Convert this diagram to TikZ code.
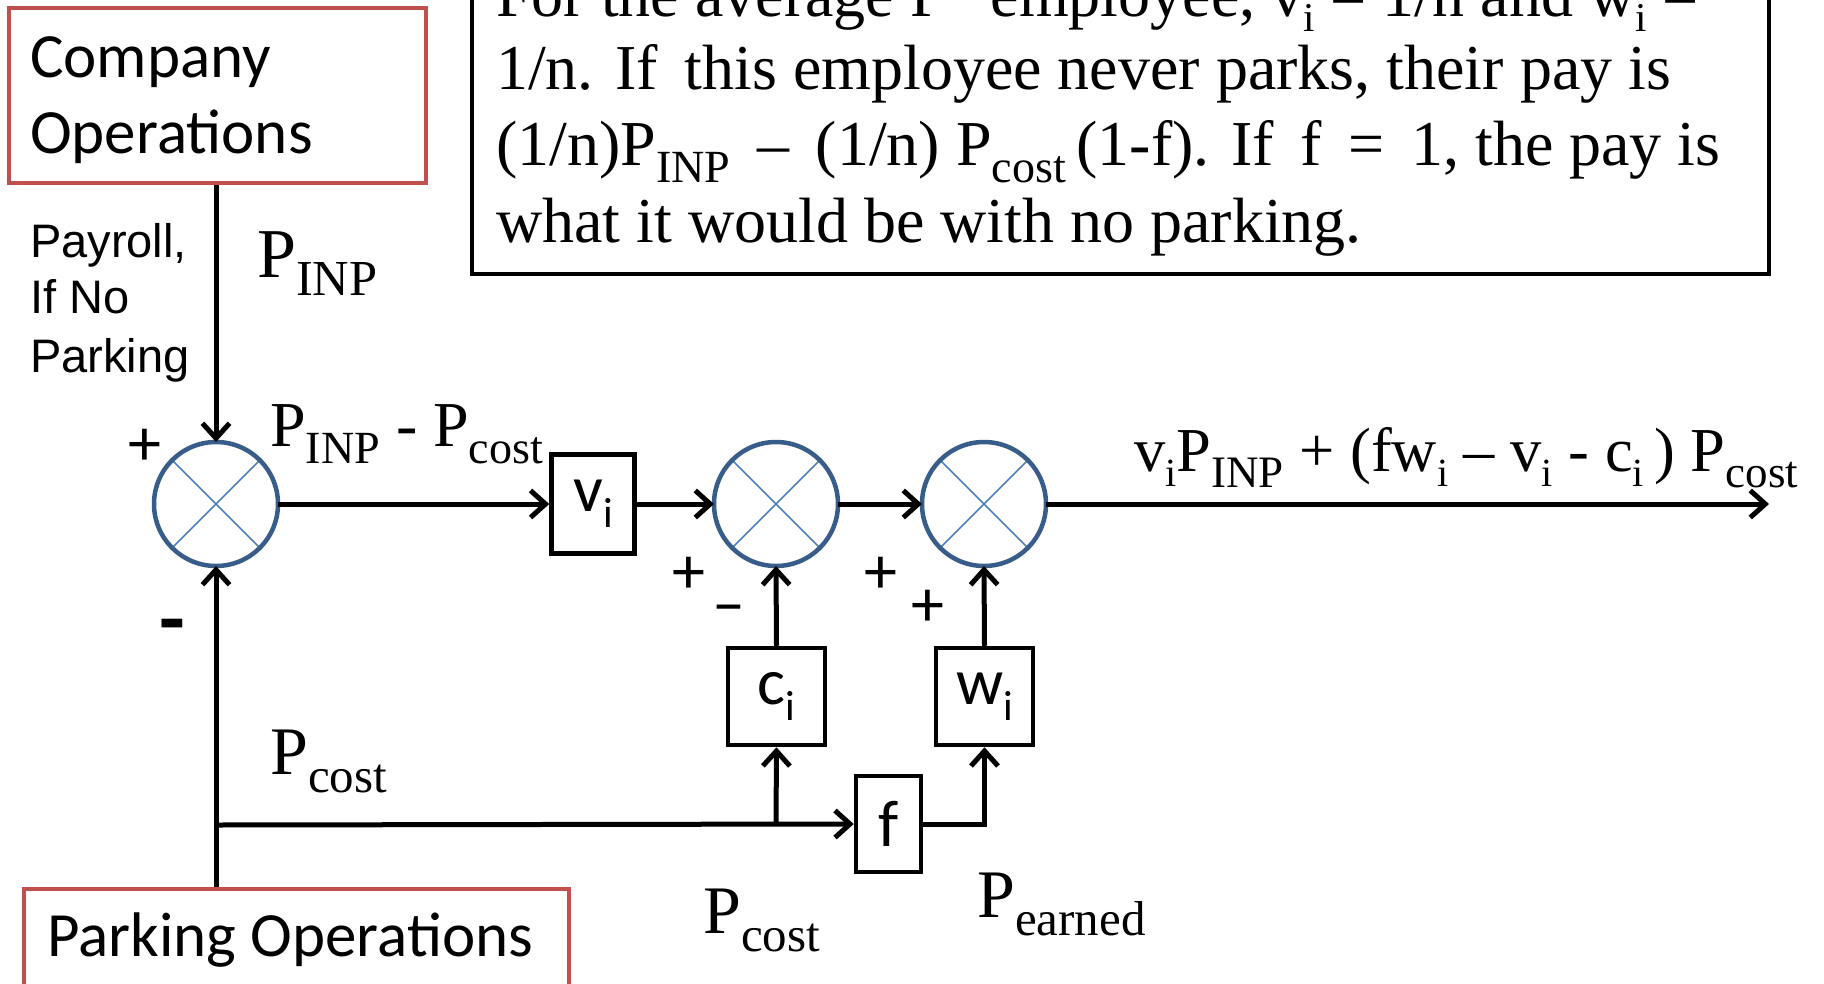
\documentclass[tikz,border=0pt]{standalone}
\usepackage{fontspec}
\usepackage{graphicx}
\setmainfont{Liberation Serif}
\newfontfamily\calf{Carlito}
\newfontfamily\arif{Liberation Sans}
\usetikzlibrary{arrows.meta}
\definecolor{redb}{RGB}{192,80,77}
\definecolor{blueo}{RGB}{56,93,138}
\definecolor{bluex}{RGB}{79,129,189}
\newcommand{\subx}[1]{\raisebox{-0.27em}{\scalebox{0.72}{#1}}}
\newcommand{\subi}[1]{\raisebox{-0.24em}{\scalebox{0.64}{#1}}}
\newcommand{\setfs}[1]{\fontsize{#1}{#1}\selectfont}
\tikzset{
  conn/.style={line width=5pt, -{Straight Barb[length=15pt,width=27pt]}},
  blk/.style={draw, line width=4.5pt, inner sep=0pt, font=\calf\setfs{66}},
  redbox/.style={draw=redb, line width=4.5pt, inner sep=0pt},
  sumj/.style={circle, draw=blueo, line width=4.5pt, minimum size=124pt, inner sep=0pt, outer sep=0pt},
  xline/.style={bluex, line width=1.6pt},
  lbl/.style={anchor=base west, inner sep=0pt},
  sgn/.style={inner sep=0pt, font=\calf\setfs{66}},
  serif/.style={lbl, font=\setfs{70}},
  note/.style={lbl, font=\setfs{64}},
}
\begin{document}
\begin{tikzpicture}[x=1pt,y=-1pt]
\useasboundingbox (0,0) rectangle (1824,983);
\clip (0,0) rectangle (1824,983);
\fill[white] (0,0) rectangle (1824,983);

% note box
\draw[line width=4.5pt] (472,-100) rectangle (1769,274);
\node[note] (t1) at (496,16) {For the average P\hspace{0.7em}employee, v\subi{i} = 1/n and w\subi{i} =};
\node[note] (t2) at (496,89) {1/n. If\, this employee never parks, their pay is};
\node[note] (t3) at (496,165) {(1/n)P\subx{INP} \,–\, (1/n) P\subx{cost}\,(1-f). If\, f\, =\, 1, the pay is};
\node[note] (t4) at (496,242) {what it would be with no parking.};

% red boxes
\node[redbox, minimum width=417pt, minimum height=175pt] (co) at (217.5,95.5) {};
\node[lbl, font=\calf\setfs{63}] (co1) at (30,77) {Company};
\node[lbl, font=\calf\setfs{63}] (co2) at (30,153) {Operations};
\node[redbox, minimum width=545pt, minimum height=130pt] (po) at (296.5,954) {};
\node[lbl, font=\calf\setfs{63}] (pot) at (47,956) {Parking Operations};

% payroll text
\node[lbl, font=\arif\setfs{47}] (p1) at (30,257) {Payroll,};
\node[lbl, font=\arif\setfs{47}] (p2) at (30,313) {If No};
\node[lbl, font=\arif\setfs{47}] (p3) at (30,372) {Parking};

% summing junctions
\node[sumj] (s1) at (216,504) {};
\node[sumj] (s2) at (776,504) {};
\node[sumj] (s3) at (984,504) {};
\foreach \s in {s1,s2,s3}{
  \draw[xline] (\s.center) ++(45:60) -- ++(225:120);
  \draw[xline] (\s.center) ++(135:60) -- ++(315:120);
}

% blocks
\node[blk, minimum width=83pt, minimum height=99pt] (v) at (593,504) {v\subi{i}};
\node[blk, minimum width=97pt, minimum height=97pt] (c) at (776.5,696.5) {c\subi{i}};
\node[blk, minimum width=97pt, minimum height=97pt] (w) at (984.5,696.5) {w\subi{i}};
\node[blk, minimum width=65pt, minimum height=96pt] (f) at (888.5,824) {f};

\coordinate (outend) at (1769,504);
\coordinate (j1) at (216,825);
\coordinate (j2) at (776,825);

% connectors
\draw[conn] (s1.north |- co.south) -- (s1.north);
\draw[conn] (s1.east) -- (v.west);
\draw[conn] (v.east) -- (s2.west);
\draw[conn] (s2.east) -- (s3.west);
\draw[conn] (s3.east) -- (outend);
\draw[conn] (s1.south |- po.north) -- (s1.south);
\draw[conn] (j1) -- (f.west);
\draw[conn] (j2) -- (c.south);
\draw[conn] (c.north) -- (s2.south);
\draw[conn] (f.east) -| (w.south);
\draw[conn] (w.north) -- (s3.south);

% signs
\node[sgn] (g1) at (145,447) {+};
\node[sgn, font=\calf\bfseries\setfs{84}] (g2) at (172,633) {-};
\node[sgn] (g3) at (689,575) {+};
\node[sgn] (g4) at (729,615) {–};
\node[sgn] (g5) at (881,575) {+};
\node[sgn] (g6) at (928,608) {+};

% signal labels
\node[serif, font=\setfs{70}] (l1) at (257,277) {P\subx{INP}};
\node[serif, font=\setfs{64}] (l2) at (270,446) {P\subx{INP} - P\subx{cost}};
\node[serif, font=\setfs{62.5}] (l3) at (1134,471) {v\subi{i}P\subx{INP} + (fw\subi{i} – v\subi{i} - c\subi{i}\,) P\subx{cost}};
\node[serif, font=\setfs{68}] (l4) at (270,774) {P\subx{cost}};
\node[serif, font=\setfs{68}] (l5) at (703,933) {P\subx{cost}};
\node[serif, font=\setfs{68}] (l6) at (977,917) {P\subx{earned}};
\end{tikzpicture}
\end{document}
